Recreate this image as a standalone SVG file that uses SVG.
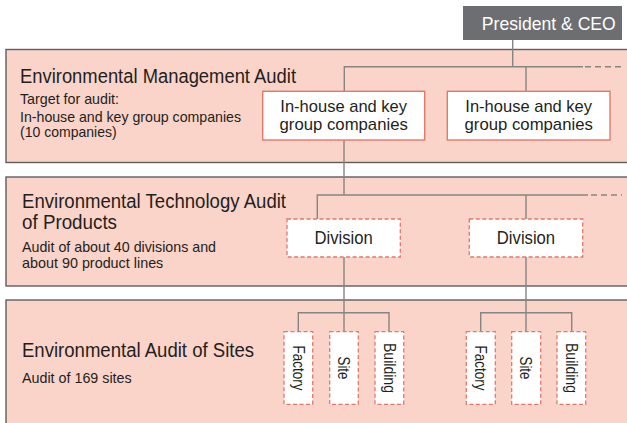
<svg xmlns="http://www.w3.org/2000/svg" width="627" height="423" viewBox="0 0 627 423">
<style>
  text { font-family: "Liberation Sans Narrow", "Liberation Sans", Arial, sans-serif; fill: #231f20; }
  .band { fill: #fad3c9; stroke: #5e5e5e; stroke-width: 1.4; }
  .title { font-size: 20px; }
  .sub { font-size: 15px; }
  .node { fill: #ffffff; stroke: #e5786b; stroke-width: 1.4; }
  .dnode { fill: #ffffff; stroke: #e5786b; stroke-width: 1.3; stroke-dasharray: 4 2.5; }
  .ntext { font-size: 17px; text-anchor: middle; }
  .dtext { font-size: 18px; text-anchor: middle; }
  .ltext { font-size: 16px; text-anchor: middle; }
  .conn { fill: none; stroke: #858585; stroke-width: 1.4; }
  .dash { fill: none; stroke: #858585; stroke-width: 1.4; stroke-dasharray: 6 4; }
</style>

<!-- bands -->
<g id="band-management">
  <rect class="band" x="6" y="49.5" width="640" height="113"/>
  <text class="title" x="20" y="82.7" textLength="276" lengthAdjust="spacingAndGlyphs">Environmental Management Audit</text>
  <text class="sub" x="20" y="104.3" textLength="99" lengthAdjust="spacingAndGlyphs">Target for audit:</text>
  <text class="sub" x="20" y="121.7" textLength="221" lengthAdjust="spacingAndGlyphs">In-house and key group companies</text>
  <text class="sub" x="20" y="137.3" textLength="96.7" lengthAdjust="spacingAndGlyphs">(10 companies)</text>
</g>
<g id="band-technology">
  <rect class="band" x="6" y="177" width="640" height="109"/>
  <text class="title" x="22" y="208.3" textLength="264" lengthAdjust="spacingAndGlyphs">Environmental Technology Audit</text>
  <text class="title" x="22" y="229.3" textLength="95" lengthAdjust="spacingAndGlyphs">of Products</text>
  <text class="sub" x="22" y="251.7" textLength="194" lengthAdjust="spacingAndGlyphs">Audit of about 40 divisions and</text>
  <text class="sub" x="22" y="267.7" textLength="141.3" lengthAdjust="spacingAndGlyphs">about 90 product lines</text>
</g>
<g id="band-sites">
  <rect class="band" x="6" y="300" width="640" height="140"/>
  <text class="title" x="22" y="356.7" textLength="232" lengthAdjust="spacingAndGlyphs">Environmental Audit of Sites</text>
  <text class="sub" x="22" y="383.3" textLength="109.7" lengthAdjust="spacingAndGlyphs">Audit of 169 sites</text>
</g>

<!-- connectors -->
<g id="connectors">
  <path class="conn" d="M512.7 40 V66.7 M344.3 91.3 V66.7 H583 M526 66.7 V91.3"/>
  <path class="dash" d="M585 66.7 H622"/>
  <path class="conn" d="M344 140 V195 M317.3 219 V195 H588 M526 195 V219"/>
  <path class="dash" d="M591 195 H622"/>
  <path class="conn" d="M344 257 V331.7 M298.3 331.7 V312.7 H389 V331.7"/>
  <path class="conn" d="M526 257 V331.7 M480.7 331.7 V312.7 H571.7 V331.7"/>
</g>

<!-- nodes -->
<g id="president">
  <rect x="463" y="6" width="159" height="34" fill="#6d6e71"/>
  <text x="548.8" y="29.5" style="font-size:19px;fill:#ffffff;text-anchor:middle" textLength="134" lengthAdjust="spacingAndGlyphs">President &amp; CEO</text>
</g>
<g id="company-1">
  <rect class="node" x="262.7" y="91.3" width="162" height="48.7"/>
  <text class="ntext" x="343.7" y="112.3" textLength="126.7" lengthAdjust="spacingAndGlyphs">In-house and key</text>
  <text class="ntext" x="343.7" y="130" textLength="128.3" lengthAdjust="spacingAndGlyphs">group companies</text>
</g>
<g id="company-2">
  <rect class="node" x="447.3" y="91.3" width="162.7" height="48.7"/>
  <text class="ntext" x="528.7" y="112.3" textLength="126.7" lengthAdjust="spacingAndGlyphs">In-house and key</text>
  <text class="ntext" x="528.7" y="130" textLength="128.3" lengthAdjust="spacingAndGlyphs">group companies</text>
</g>
<g id="division-1">
  <rect class="dnode" x="287" y="219" width="113.3" height="38"/>
  <text class="dtext" x="343.6" y="244" textLength="58.3" lengthAdjust="spacingAndGlyphs">Division</text>
</g>
<g id="division-2">
  <rect class="dnode" x="469.3" y="219" width="113.4" height="38"/>
  <text class="dtext" x="526" y="244" textLength="58.3" lengthAdjust="spacingAndGlyphs">Division</text>
</g>
<g id="factory-1">
  <rect class="dnode" x="284" y="331.7" width="28.7" height="72.6"/>
  <text class="ltext" x="298.3" y="373.8" transform="rotate(90 298.3 368)" textLength="45" lengthAdjust="spacingAndGlyphs">Factory</text>
</g>
<g id="site-1">
  <rect class="dnode" x="329.7" y="331.7" width="28.6" height="72.6"/>
  <text class="ltext" x="344" y="373.8" transform="rotate(90 344 368)" textLength="23" lengthAdjust="spacingAndGlyphs">Site</text>
</g>
<g id="building-1">
  <rect class="dnode" x="375" y="331.7" width="28.7" height="72.6"/>
  <text class="ltext" x="389.3" y="373.8" transform="rotate(90 389.3 368)" textLength="50" lengthAdjust="spacingAndGlyphs">Building</text>
</g>
<g id="factory-2">
  <rect class="dnode" x="466.3" y="331.7" width="29" height="72.6"/>
  <text class="ltext" x="480.8" y="373.8" transform="rotate(90 480.8 368)" textLength="45" lengthAdjust="spacingAndGlyphs">Factory</text>
</g>
<g id="site-2">
  <rect class="dnode" x="511.7" y="331.7" width="29" height="72.6"/>
  <text class="ltext" x="526.2" y="373.8" transform="rotate(90 526.2 368)" textLength="23" lengthAdjust="spacingAndGlyphs">Site</text>
</g>
<g id="building-2">
  <rect class="dnode" x="557" y="331.7" width="28.7" height="72.6"/>
  <text class="ltext" x="571.4" y="373.8" transform="rotate(90 571.4 368)" textLength="50" lengthAdjust="spacingAndGlyphs">Building</text>
</g>
</svg>
